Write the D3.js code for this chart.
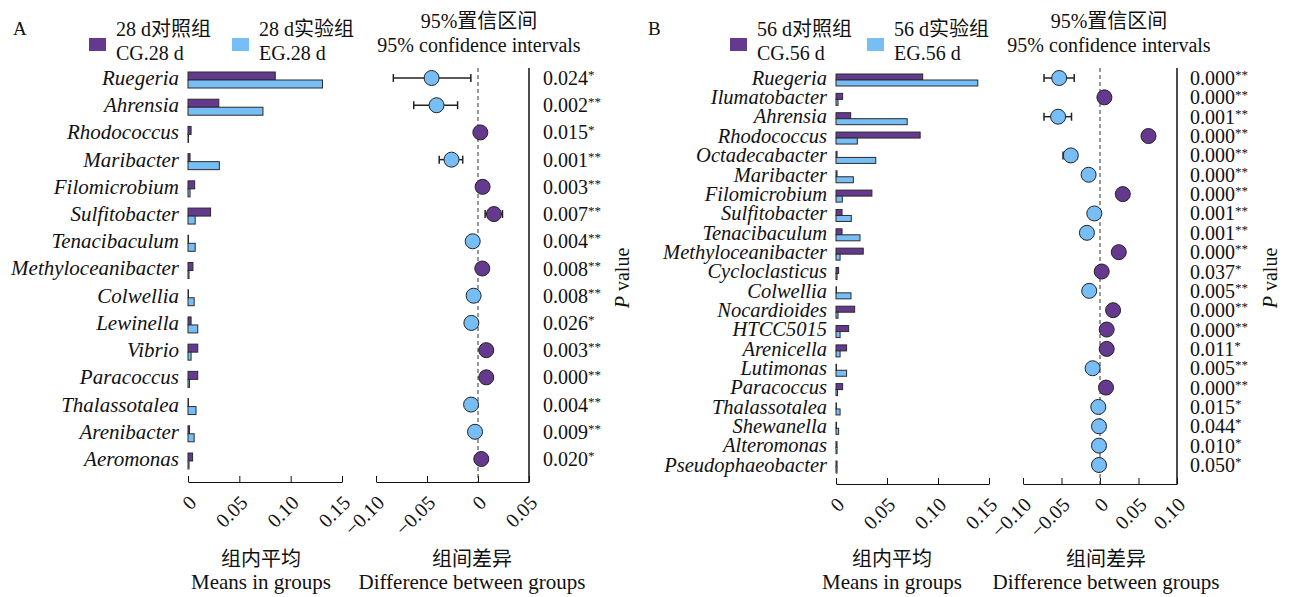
<html>
<head>
<meta charset="utf-8">
<script src="https://d3js.org/d3.v7.min.js"></script>
<style>
body { margin: 0; background: #fff; }
text { font-family: "Liberation Serif", "Noto Sans CJK SC", serif; fill: #111; }
</style>
</head>
<body>
<div id="chart"></div>
<script>
// ---- panel A (28 d) ----
const genusA = ["Ruegeria","Ahrensia","Rhodococcus","Maribacter","Filomicrobium","Sulfitobacter",
  "Tenacibaculum","Methyloceanibacter","Colwellia","Lewinella","Vibrio","Paracoccus",
  "Thalassotalea","Arenibacter","Aeromonas"];
const cgA = [0.085,0.030,0.003,0.002,0.0065,0.022,0.0005,0.0048,0.0005,0.003,0.0095,0.0095,0.0005,0.0015,0.0045];
const egA = [0.131,0.073,0.0005,0.0305,0.002,0.007,0.007,0.001,0.006,0.0095,0.003,0.0015,0.0078,0.006,0.001];
const diffA = [-0.0455,-0.0406,0.0023,-0.026,0.0045,0.0156,-0.0052,0.0042,-0.0043,-0.0065,0.0081,0.0081,-0.0068,-0.0029,0.0032];
const loA = [-0.083,-0.063,0.000,-0.038,0.002,0.007,-0.008,0.002,-0.007,-0.010,0.005,0.005,-0.010,-0.005,0.001];
const hiA = [-0.007,-0.020,0.005,-0.015,0.007,0.024,-0.002,0.006,-0.002,-0.003,0.011,0.011,-0.004,-0.001,0.005];
const pA = ["0.024","0.002","0.015","0.001","0.003","0.007","0.004","0.008","0.008","0.026","0.003","0.000","0.004","0.009","0.020"];
const starA = ["*","**","*","**","**","**","**","**","**","*","**","**","**","**","*"];

// ---- panel B (56 d) ----
const genusB = ["Ruegeria","Ilumatobacter","Ahrensia","Rhodococcus","Octadecabacter","Maribacter",
  "Filomicrobium","Sulfitobacter","Tenacibaculum","Methyloceanibacter","Cycloclasticus","Colwellia",
  "Nocardioides","HTCC5015","Arenicella","Lutimonas","Paracoccus","Thalassotalea","Shewanella",
  "Alteromonas","Pseudophaeobacter"];
const cgB = [0.085,0.0065,0.0144,0.0825,0.001,0.001,0.0352,0.0059,0.0059,0.0267,0.0026,0.0005,0.0183,0.0124,0.0104,0.0005,0.0065,0.0005,0.0005,0.001,0.001];
const egB = [0.139,0.002,0.0698,0.0209,0.039,0.017,0.0062,0.015,0.0235,0.004,0.001,0.0147,0.002,0.004,0.004,0.0104,0.0015,0.004,0.0026,0.001,0.001];
const diffB = [-0.053,0.0057,-0.0544,0.063,-0.0379,-0.0148,0.0296,-0.0074,-0.017,0.0244,0.0022,-0.014,0.017,0.0087,0.0087,-0.0096,0.0078,-0.0022,-0.0013,-0.0013,-0.0013];
const loB = [-0.0727,0.003,-0.0727,0.056,-0.048,-0.019,0.025,-0.011,-0.021,0.020,0.000,-0.018,0.013,0.005,0.005,-0.013,0.005,-0.004,-0.003,-0.003,-0.003];
const hiB = [-0.0335,0.008,-0.037,0.070,-0.030,-0.011,0.034,-0.004,-0.013,0.029,0.004,-0.010,0.021,0.012,0.012,-0.006,0.011,0.000,0.000,0.000,0.000];
const pB = ["0.000","0.000","0.001","0.000","0.000","0.000","0.000","0.001","0.001","0.000","0.037","0.005","0.000","0.000","0.011","0.005","0.000","0.015","0.044","0.010","0.050"];
const starB = ["**","**","**","**","**","**","**","**","**","**","*","**","**","**","*","**","**","*","*","*","*"];

const meanTicks = [0, 0.05, 0.10, 0.15];
const diffTicksA = [-0.10, -0.05, 0, 0.05];
const diffTicksB = [-0.10, -0.05, 0, 0.05, 0.10];

const purple = "#653a8e";
const blue = "#78bef6";
const w = 1294, h = 597;

const svg = d3.select("#chart").append("svg")
  .attr("width", w).attr("height", h);

function fmt(d) {
  return d === 0 ? "0" : d3.format(".2f")(d);
}

function panel(o) {
  const g = svg.append("g");
  const rows = o.genus.map((name, i) => ({
    name, cg: o.cg[i], eg: o.eg[i], diff: o.diff[i], lo: o.lo[i], hi: o.hi[i], p: o.p[i], star: o.star[i]
  }));

  const y = d3.scalePoint().domain(o.genus).range([o.yTop, o.yBot]);
  const xm = d3.scaleLinear().domain([0, 0.15]).range(o.meanRange);
  const xd = d3.scaleLinear().domain(o.diffDomain).range(o.diffRange);
  const bh = o.barH;

  // genus labels
  g.selectAll(".lab").data(rows).enter().append("text")
    .attr("x", xm(0) - 9).attr("y", d => y(d.name))
    .attr("dy", "0.33em")
    .attr("text-anchor", "end")
    .style("font-style", "italic").style("font-size", o.labSize)
    .text(d => d.name);

  // bars
  g.selectAll(".cg").data(rows).enter().append("rect")
    .attr("x", xm(0)).attr("y", d => y(d.name) + 2 - bh)
    .attr("width", d => xm(d.cg) - xm(0)).attr("height", bh)
    .attr("fill", purple).attr("stroke", "#2a2a2a").attr("stroke-width", 1);
  g.selectAll(".eg").data(rows).enter().append("rect")
    .attr("x", xm(0)).attr("y", d => y(d.name) + 2)
    .attr("width", d => xm(d.eg) - xm(0)).attr("height", bh)
    .attr("fill", blue).attr("stroke", "#2a2a2a").attr("stroke-width", 1);

  // axes
  const axisM = d3.axisBottom(xm).tickValues(meanTicks).tickFormat(fmt).tickSize(-6).tickSizeOuter(0);
  const axisD = d3.axisBottom(xd).tickValues(o.diffTicks).tickFormat(fmt).tickSize(-6).tickSizeOuter(0);
  [axisM, axisD].forEach(ax => {
    const a = g.append("g").attr("transform", "translate(0," + o.axisY + ")").call(ax);
    a.select(".domain").attr("stroke", "#111").attr("stroke-width", 1.2);
    a.selectAll(".tick line").attr("stroke", "#111");
    a.selectAll(".tick text")
      .attr("x", 0).attr("y", 0).attr("dy", 0)
      .attr("transform", "translate(9,22) rotate(-45)")
      .attr("text-anchor", "end")
      .style("font-size", "20px")
      .style("font-family", "'Liberation Serif', serif")
      .attr("fill", "#111");
  });

  // zero line and right border
  g.append("line")
    .attr("x1", xd(0)).attr("x2", xd(0)).attr("y1", o.lineTop).attr("y2", o.axisY)
    .attr("stroke", "#333").attr("stroke-dasharray", "4,3");
  g.append("line")
    .attr("x1", o.diffRange[1]).attr("x2", o.diffRange[1]).attr("y1", o.lineTop).attr("y2", o.axisY)
    .attr("stroke", "#111").attr("stroke-width", 1.5);

  // confidence intervals
  const ci = g.selectAll(".ci").data(rows).enter().append("g");
  ci.append("line")
    .attr("x1", d => xd(d.lo)).attr("x2", d => xd(d.hi))
    .attr("y1", d => y(d.name)).attr("y2", d => y(d.name))
    .attr("stroke", "#222").attr("stroke-width", 1.5);
  ["lo", "hi"].forEach(k => {
    ci.append("line")
      .attr("x1", d => xd(d[k])).attr("x2", d => xd(d[k]))
      .attr("y1", d => y(d.name) - 4).attr("y2", d => y(d.name) + 4)
      .attr("stroke", "#222").attr("stroke-width", 1.5);
  });
  ci.append("circle")
    .attr("cx", d => xd(d.diff)).attr("cy", d => y(d.name)).attr("r", 7.5)
    .attr("fill", d => d.diff < 0 ? blue : purple)
    .attr("stroke", "#222").attr("stroke-width", 1);

  // p values
  const pt = g.selectAll(".pv").data(rows).enter().append("text")
    .attr("x", o.pX).attr("y", d => y(d.name)).attr("dy", "0.35em")
    .style("font-size", "20px");
  pt.append("tspan").text(d => d.p);
  pt.append("tspan").attr("dy", "-0.45em").style("font-size", "13px").text(d => d.star);

  g.append("text")
    .attr("transform", "translate(" + o.pLabX + ",278) rotate(-90)")
    .attr("text-anchor", "middle").style("font-size", "20px")
    .html("<tspan font-style='italic'>P</tspan> value");

  // axis titles
  const mC = o.meanTitleX, dC = o.diffTitleX;
  [[mC, "组内平均", "Means in groups"], [dC, "组间差异", "Difference between groups"]].forEach(t => {
    g.append("text").attr("x", t[0]).attr("y", 566).attr("text-anchor", "middle")
      .style("font-size", "20px").text(t[1]);
    g.append("text").attr("x", t[0]).attr("y", 589).attr("text-anchor", "middle")
      .style("font-size", "21px").text(t[2]);
  });

  // legend
  g.append("text").attr("x", o.letterX).attr("y", 35).style("font-size", "19px").text(o.letter);
  [[o.legX[0], purple, o.legText[0]], [o.legX[1], blue, o.legText[1]]].forEach(l => {
    g.append("rect").attr("x", l[0]).attr("y", 38).attr("width", 17).attr("height", 13)
      .attr("fill", l[1]);
    g.append("text").attr("x", l[0] + 27).attr("y", 36).style("font-size", "20px").text(l[2][0]);
    g.append("text").attr("x", l[0] + 27).attr("y", 60).style("font-size", "20px").text(l[2][1]);
  });
  g.append("text").attr("x", o.ciX).attr("y", 28).attr("text-anchor", "middle")
    .style("font-size", "20px").text("95%置信区间");
  g.append("text").attr("x", o.ciX).attr("y", 52).attr("text-anchor", "middle")
    .style("font-size", "20px").text("95% confidence intervals");
}

panel({
  genus: genusA, cg: cgA, eg: egA, diff: diffA, lo: loA, hi: hiA, p: pA, star: starA,
  yTop: 78, yBot: 459, barH: 8, axisY: 482, lineTop: 68, labSize: "21px",
  meanRange: [188, 342], diffDomain: [-0.10, 0.05], diffRange: [376, 529], diffTicks: diffTicksA,
  pX: 543, pLabX: 629, meanTitleX: 261, diffTitleX: 472,
  letter: "A", letterX: 13, legX: [89, 232],
  legText: [["28 d对照组", "CG.28 d"], ["28 d实验组", "EG.28 d"]], ciX: 479
});

panel({
  genus: genusB, cg: cgB, eg: egB, diff: diffB, lo: loB, hi: hiB, p: pB, star: starB,
  yTop: 78, yBot: 465, barH: 6, axisY: 484, lineTop: 68, labSize: "20.5px",
  meanRange: [836, 989], diffDomain: [-0.10, 0.10], diffRange: [1023, 1177], diffTicks: diffTicksB,
  pX: 1190, pLabX: 1277, meanTitleX: 892, diffTitleX: 1106,
  letter: "B", letterX: 648, legX: [730, 867],
  legText: [["56 d对照组", "CG.56 d"], ["56 d实验组", "EG.56 d"]], ciX: 1109
});
</script>
</body>
</html>
